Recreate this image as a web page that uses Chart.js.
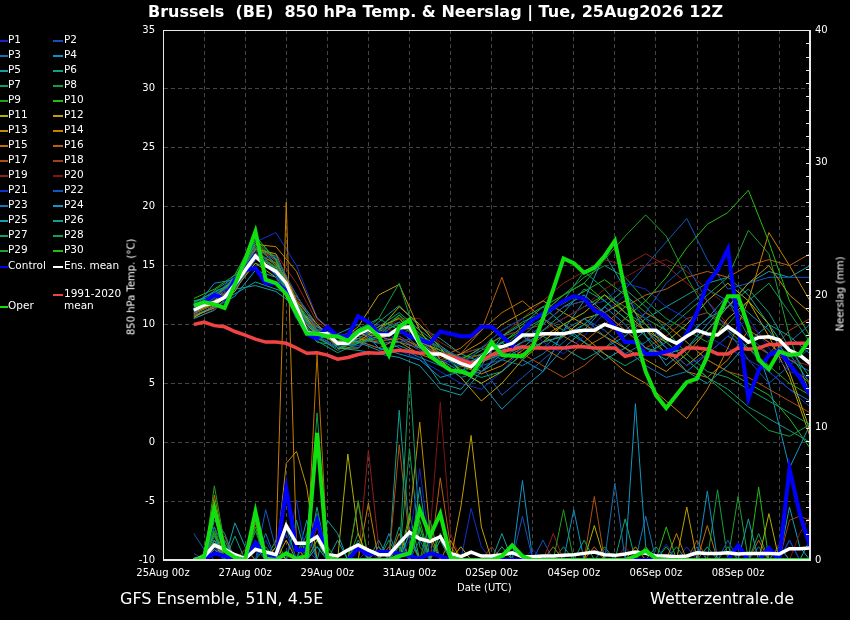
<!DOCTYPE html>
<html>
<head>
<meta charset="utf-8">
<title>Brussels 850 hPa Temp. & Neerslag</title>
<script src="https://cdn.jsdelivr.net/npm/chart.js@4.4.1/dist/chart.umd.min.js"></script>
<style>
  body { margin: 0; background: #000; }
  #wrap { position: relative; width: 850px; height: 620px; background: #000; overflow: hidden;
          font-family: "DejaVu Sans", sans-serif; color: #fff; }
  #c { position: absolute; left: 0; top: 0; }
  .txt { position: absolute; white-space: pre; }
  .rot { position: absolute; white-space: nowrap; transform: translate(-50%, -50%) rotate(-90deg); font-size: 10px; }
  .lg { position: absolute; font-size: 10.5px; line-height: 12px; white-space: pre; }
  .mk { position: absolute; height: 2px; }
</style>
</head>
<body>
<div id="wrap">
  <canvas id="c" width="850" height="620"></canvas>
  <div class="txt" style="left:148px;top:2px;font-weight:bold;font-size:16px;">Brussels  (BE)  850 hPa Temp. &amp; Neerslag | Tue, 25Aug2026 12Z</div>
  <div class="rot" style="left:131px;top:287px;">850 hPa Temp. (°C)</div>
  <div class="rot" style="left:840px;top:294px;">Neerslag (mm)</div>
  <div class="txt" style="left:457px;top:582px;font-size:10px;">Date (UTC)</div>
  <div class="txt" style="left:120px;top:589px;font-size:16px;">GFS Ensemble, 51N, 4.5E</div>
  <div class="txt" style="left:650px;top:589px;font-size:16px;">Wetterzentrale.de</div>
  <div id="legend"></div>
</div>
<script>
// time axis: days after 25Aug 00z
const dayTickLabels = ["25Aug 00z", "27Aug 00z", "29Aug 00z", "31Aug 00z", "02Sep 00z", "04Sep 00z", "06Sep 00z", "08Sep 00z"];
const mainStart = 0.75, mainStep = 0.25;     // 6-hourly, first step 25Aug 18z
const memberStart = 0.75, memberStep = 0.5;  // members temperature every 12h

// thick lines, 6-hourly
const operTemp = [11.6,11.9,11.7,11.4,13.4,15.5,17.9,13.8,13.5,12.6, 10.9,9.2,9.2,9.0,9.0,8.6,9.4,9.8,9.0,7.4, 9.8,10.4,8.4,7.3,6.7,6.1,6.0,5.7,7.0,8.5, 7.4,7.35,7.3,8.1,10.5,13.0,15.6,15.2,14.4,14.8, 15.8,17.1,12.8,9.0,6.0,4.0,2.9,4.0,5.1,5.4, 7.3,10.5,12.4,12.4,9.8,7.0,6.2,7.7,7.4,7.5, 8.8];
const controlTemp = [11.5,11.9,12.5,12.2,13.8,14.6,14.8,13.5,13.5,12.9, 10.9,9.2,8.8,9.8,9.0,9.0,10.7,10.2,9.2,9.2, 9.5,9.0,8.7,8.4,9.4,9.2,9.0,9.0,9.8,9.8, 9.0,8.2,9.5,10.4,10.9,11.4,12.0,12.4,12.2,11.2, 10.8,9.8,8.5,8.5,7.5,7.5,7.7,8.0,9.2,11.0, 13.5,14.6,16.4,10.1,3.7,6.1,7.4,7.8,6.6,5.5, 4.0];
const meanTemp = [11.2,11.65,11.85,12.3,13.4,14.6,15.8,15.0,14.5,13.5, 11.5,9.3,9.2,9.2,8.4,8.4,9.2,9.6,9.1,9.1, 9.7,9.8,8.3,7.5,7.5,7.1,6.7,6.4,7.2,8.0, 8.1,8.4,9.1,9.1,9.2,9.2,9.2,9.4,9.5,9.5, 10.0,9.7,9.4,9.4,9.5,9.5,8.8,8.4,9.0,9.5, 9.2,9.1,9.8,9.2,8.5,8.9,8.95,8.7,7.8,7.4, 6.7];
const climTemp = [10.0,10.2,9.9,9.8,9.4,9.1,8.75,8.5,8.5,8.4, 8.0,7.55,7.6,7.4,7.05,7.2,7.45,7.6,7.55,7.7, 7.8,7.7,7.55,7.6,7.5,7.3,7.0,6.7,6.9,7.4, 7.7,7.9,8.1,8.0,8.0,8.0,8.0,8.1,8.1,8.0, 8.0,8.0,7.3,7.5,7.5,7.6,7.5,7.3,8.0,8.0, 7.9,7.5,7.5,8.0,7.9,8.0,8.3,8.3,8.4,8.4, 8.4];
const operRain = [0,0.2,3.9,0.7,0.2,0,3.65,0.1,0,0.5, 0.1,0.3,9.6,0.2,0,0,0,0,0,0, 0.3,0.5,3.8,1.8,3.5,0.2,0,0,0,0, 0.3,1.1,0.3,0,0,0,0,0,0,0, 0,0,0,0.3,0.7,0.1,0,0,0,0, 0,0,0,0,0,0,0,0,0,0, 0];
const controlRain = [0,0.1,0.5,0.3,0,0,1.3,0.4,0.1,5.4, 0.75,0.75,3.0,0.1,0,0,0.9,0.4,0.6,0.6, 0.5,0.3,0.1,0.5,0.3,0,0,0,0,0, 0,0,0,0,0,0,0,0,0,0, 0,0,0,0,0,0,0,0,0,0, 0,0,0,1.1,0,0,0.9,0,6.9,3.5, 1.0];
const meanRain = [0,0.25,1.13,0.8,0.4,0.1,0.8,0.6,0.4,2.6, 1.26,1.26,1.76,0.4,0.3,0.75,1.13,0.75,0.4,0.4, 1.26,2.1,1.6,1.4,1.76,0.5,0.25,0.6,0.3,0.3, 0.4,0.55,0.25,0.25,0.3,0.3,0.35,0.4,0.5,0.6, 0.4,0.35,0.45,0.6,0.5,0.3,0.3,0.25,0.3,0.55, 0.5,0.5,0.55,0.45,0.5,0.5,0.5,0.45,0.85,0.85, 0.9];

// members temperature, 12-hourly
const t01 = [11.0,12.2,13.6,16.2,14.0,10.8,9.0,8.0,9.5,8.6, 9.0,7.8,7.0,6.5,8.0,9.5,10.5,8.5,7.5,9.0, 11.0,12.5,10.5,8.0,6.5,7.5,9.0,10.5,8.0,6.0, 5.5];
const t02 = [11.5,12.6,13.0,15.5,15.8,12.5,9.6,8.8,9.0,10.0, 8.5,9.0,8.0,7.2,6.5,7.0,8.5,10.0,11.5,12.0, 10.5,9.0,11.0,13.5,15.0,12.0,9.5,7.0,5.0,6.5, 8.0];
const t03 = [10.8,11.5,13.2,16.5,14.5,11.0,9.4,8.5,8.0,9.5, 10.2,8.8,6.8,5.5,6.0,7.8,9.0,8.0,9.5,10.5, 9.0,7.5,8.5,10.0,11.5,13.0,12.0,9.0,7.5,8.5, 10.0];
const t04 = [11.3,13.5,13.8,16.0,14.2,10.5,8.8,9.2,10.0,8.0, 7.5,7.0,5.5,6.0,7.5,8.5,7.0,6.0,8.0,9.5, 11.5,10.0,8.0,7.0,9.0,10.5,12.5,11.0,9.5,7.0, 6.0];
const t05 = [10.5,11.2,13.0,13.3,12.8,11.5,9.8,9.0,8.5,7.8, 8.2,7.5,5.0,4.5,6.5,9.0,10.0,11.5,10.0,8.5, 7.0,8.0,9.5,8.0,6.0,5.0,6.5,8.5,10.0,9.0, 7.5];
const t06 = [11.8,12.8,13.5,17.0,15.5,11.8,9.0,7.8,8.8,9.8, 11.0,9.5,8.2,7.0,6.0,7.0,8.0,9.5,11.0,13.0, 12.0,10.5,9.0,7.5,8.0,9.5,11.5,13.0,11.0,8.0, 5.5];
const t07 = [12.0,12.4,14.0,16.8,15.0,10.5,8.5,8.2,9.6,10.5, 9.5,8.0,7.5,6.2,5.5,6.0,7.5,8.5,9.0,10.0, 11.5,13.0,11.5,9.5,7.5,6.0,5.5,4.5,3.5,2.5, 1.5];
const t08 = [11.0,12.0,13.2,15.8,14.8,11.2,9.5,8.6,9.0,10.5, 13.5,8.0,6.5,5.8,7.0,8.0,9.0,10.5,12.0,14.5, 13.0,11.0,10.0,8.5,7.0,5.5,4.0,2.5,1.0,0.5, 1.5];
const t09 = [11.6,12.5,13.6,16.5,14.6,10.8,8.8,8.0,8.5,8.8, 9.8,9.0,7.8,6.8,7.8,9.0,10.2,11.0,12.5,13.5, 15.5,17.5,19.3,17.5,14.0,11.0,9.5,8.0,6.5,5.0, 4.0];
const t10 = [12.2,13.0,14.2,17.5,15.5,11.5,9.2,8.8,8.5,9.0, 10.8,9.2,8.0,7.0,8.0,9.5,10.5,11.5,12.5,13.5, 12.0,10.5,12.0,14.0,16.5,18.5,19.5,21.4,17.0,12.0, 9.0];
const t11 = [11.0,11.8,13.0,15.2,14.0,11.0,9.0,8.0,8.0,9.5, 11.5,10.0,8.0,6.0,5.0,6.0,7.5,8.5,10.0,11.0, 12.5,11.0,9.5,8.5,10.0,12.0,13.5,12.0,10.0,6.0, 1.0];
const t12 = [10.6,11.6,12.8,15.8,14.8,11.8,9.3,8.4,9.8,12.5, 13.4,9.5,7.0,5.5,3.5,5.0,7.0,8.5,9.0,10.5, 11.0,12.0,10.0,8.0,6.5,8.0,10.5,12.0,9.0,5.5, 0.5];
const t13 = [10.8,11.4,13.4,16.4,16.0,12.0,10.0,8.5,9.2,9.0, 8.5,7.5,6.8,7.5,8.5,10.0,11.0,12.0,11.0,10.0, 9.0,8.0,7.0,6.0,7.5,9.5,11.5,13.5,15.0,12.5, 11.0];
const t14 = [11.2,12.0,13.8,16.8,16.6,14.5,10.5,9.0,8.5,9.8, 10.5,8.5,7.8,6.5,5.8,6.5,7.8,9.0,10.0,9.0, 7.5,6.0,5.0,3.5,2.0,4.5,8.0,12.0,17.8,15.0, 12.0];
const t15 = [10.9,11.7,13.5,16.0,15.2,12.5,9.5,8.2,8.8,8.5, 9.0,8.0,7.2,8.0,9.5,11.0,12.0,10.5,9.0,8.0, 9.0,10.5,9.5,7.5,6.0,5.5,7.0,9.5,8.5,6.5, 5.0];
const t16 = [11.4,12.3,14.0,16.8,15.5,11.5,9.0,8.0,8.6,8.0, 8.8,7.8,7.0,7.5,9.5,14.0,9.0,8.0,7.0,8.5, 10.0,11.5,12.5,13.0,14.0,14.5,14.0,15.0,15.5,15.0, 16.0];
const t17 = [10.7,11.5,13.6,16.3,15.0,11.5,9.6,9.0,9.2,8.8, 9.4,8.6,7.5,6.8,7.5,8.2,7.5,6.5,5.5,6.5, 8.0,9.5,11.0,10.0,8.5,7.0,6.0,5.5,4.5,3.5, 2.5];
const t18 = [11.0,12.0,13.2,16.6,15.4,12.2,9.8,8.6,9.0,8.6, 8.8,8.2,7.5,7.0,8.0,9.0,9.5,10.0,11.5,12.0, 11.0,9.5,8.0,9.0,10.5,11.0,10.0,8.5,7.5,9.5, 10.5];
const t19 = [11.3,12.1,13.3,16.0,16.0,13.5,10.2,9.0,9.5,10.0, 9.2,9.8,8.5,7.5,8.0,9.0,10.5,12.0,13.5,14.5, 15.5,15.0,16.0,15.0,13.5,12.0,10.0,8.5,7.5,7.0, 6.5];
const t20 = [10.5,11.3,12.8,15.5,14.8,11.5,9.5,8.8,9.5,9.2, 10.5,10.5,8.2,6.5,6.0,7.0,8.5,9.5,10.5,11.5, 13.0,14.0,15.0,15.5,14.5,13.0,11.5,10.0,8.5,7.5, 7.0];
const t21 = [11.6,12.4,14.2,17.0,17.8,15.0,10.6,9.0,8.6,8.0, 7.8,7.0,6.0,5.0,4.5,6.0,8.0,9.5,10.5,11.5, 12.0,13.5,13.0,11.5,10.5,9.0,8.0,7.0,6.0,4.5, 3.0];
const t22 = [11.0,11.9,13.0,15.6,14.4,11.2,9.0,8.2,8.2,9.0, 9.6,8.5,7.8,7.2,6.5,4.0,5.5,7.0,8.5,10.0, 11.5,13.0,15.0,17.0,19.0,15.5,13.0,13.5,14.0,14.0, 14.0];
const t23 = [11.4,12.6,13.3,15.2,14.6,11.4,9.2,8.6,9.4,9.2, 8.0,7.2,6.5,7.5,8.0,7.0,6.5,7.5,9.0,10.5, 9.5,8.0,6.5,5.5,6.0,7.5,9.0,8.0,6.0,4.5, 3.5];
const t24 = [10.7,11.4,12.4,14.6,14.0,11.0,9.4,9.0,8.8,8.4, 8.5,8.0,7.0,6.0,5.0,2.8,4.5,6.0,9.5,12.0, 16.0,13.0,9.0,6.5,8.0,10.0,12.0,10.0,5.0,-2.2, 1.5];
const t25 = [11.2,11.8,12.6,13.6,13.0,12.4,10.0,8.0,7.8,7.5, 7.2,6.5,4.5,4.0,6.0,7.5,8.5,10.0,11.5,12.5, 11.0,9.5,8.0,7.5,9.0,10.5,11.5,13.5,14.5,14.0, 15.0];
const t26 = [11.9,12.7,13.7,16.6,15.2,11.6,9.2,8.4,9.0,10.2, 11.6,9.8,8.8,7.5,6.8,7.5,8.5,9.0,8.0,7.0, 8.0,9.0,10.5,11.5,12.5,13.5,14.0,12.5,10.0,7.5, 5.0];
const t27 = [12.0,12.3,13.0,15.8,14.4,11.0,8.6,7.6,8.4,9.0, 10.2,9.0,7.5,6.6,7.2,8.5,9.5,10.5,9.5,8.5, 7.5,6.5,7.5,8.5,7.0,5.5,4.5,3.0,2.0,1.0, 0.0];
const t28 = [11.1,12.9,14.0,16.4,15.8,12.0,9.0,8.0,8.4,9.5, 10.8,8.6,7.6,6.0,7.0,8.0,9.5,11.0,12.5,14.0, 15.0,14.0,12.0,10.5,9.5,8.5,10.0,12.0,13.5,11.0, 8.5];
const t29 = [10.6,11.6,13.1,15.9,14.9,11.9,9.6,8.2,8.6,9.6, 10.6,8.4,7.4,6.4,6.8,7.5,8.5,9.5,10.5,11.5, 12.5,11.5,10.5,9.5,11.0,12.5,14.0,18.0,16.0,9.0, 4.0];
const t30 = [11.5,12.2,13.9,17.2,15.6,11.4,8.9,8.0,9.6,9.4, 10.0,8.9,8.0,7.2,7.4,8.4,9.8,10.8,11.8,12.8, 13.8,12.5,11.0,10.0,8.5,7.0,6.0,5.0,4.0,2.0, -0.5];

// members precipitation (mm), 6-hourly
const r01 = [0,0,1,0,0,0,0,0,0,2, 0,0,0,0,0,0,0,0.8,0,0, 0,1.5,6.9,1,0,0,0,0,0,0, 0,0,0,0.8,0,0,0,0,0,0, 0,0,0,0,0,0,1.2,0,0,0, 0,0,0,0,0,0,0,0,1.5,0, 0];
const r02 = [0.5,0,0,0,0,0,1,0,0,0, 0,0.8,0,0,0,0,0,0,0,0, 1.2,0,0,0,0,0,0,0,0,0, 0,0,3.3,0,0,0,0,0,0,0, 0.8,0,0,0,0,0,0,0,0,0, 0,0,1.5,0,0,0,0,0,0,0, 0];
const r03 = [0,0,2.5,0.8,0,0,0,0,0,0, 0,2,0,0,0,0,0,0,1,0, 0,0,1.5,0,0,0,0,0,0,0, 0,0,0,0,0,0,0,0,0,0, 0,5.8,0,0,0,0,0,0,0,1, 0,0,0,0,0,0,0,0,0,0, 0];
const r04 = [0,0,0.8,0,0,0,1.5,0,0,0, 0,0,1,0,0,0,0,0,0,2, 0,0,0,0,0,0,0,0,0,0, 0,0,0,0,0,0,0,3.8,0,0, 0,0,0,0,0,0,0,0,0,0, 5.2,0,0,0,0,0,0,1,0,0, 0];
const r05 = [0,0,1.2,1.5,0,0,0,0,0,0, 0,0,0,3,2,0,0,0,0,0, 0,2,0,0,0,0,0,0,0,0, 2,0,0,0,0,0,0,0,0,0, 0,0,0,0,0,0,0,0,0,0, 0,0,0,0,3.1,0,0,0,0,0, 1.5];
const r06 = [0,0,1.5,0,1.8,0,0,0,0,0, 3,0,4,0,0,0,0,0,0,0, 2.5,0,0,0,1.5,0,0,0,0,0, 0,0,0,0,0,0,0,0,0,0, 0,0,0,0,0,1,0,0,0,0, 0,0,0,0,0,0,0,0,0,0, 0];
const r07 = [0,0,4,1,0,0,0,0,0,0, 0,0,0,0,0,0,1.5,0,0,0, 0,14.3,2,0,0,0,0,0,0,0, 0,0,0,0,0,0,0,0,1.5,0, 0,0,0,0,0,0,0,1,0,0, 0,0,0,0,0,0,0,0,0,0, 0];
const r08 = [0,0,2,0,0,0,0,1,0,0, 0,0,11.1,1,0,0,0,0,0,1.5, 0,0,0,3,0,0,0,0,0,0, 0,0,0,0,0,0,0,0,0,0, 0,0,0,0,0,0,0,0,0,0, 0,5.3,0,0,0,0,0,0,0,0, 0];
const r09 = [0,0,5.6,1.2,0,0,1,0,0,0, 0,0,0,0,0,0,4.5,0,0,0, 0,0,2.5,0,0,0,0,0,0,0, 0,0,0,0,0,0,3.8,0,0,0, 0,0,0,0,1,0,0,0,0,0, 0,0,0,0,0,0,0,0,0,0, 0];
const r10 = [0,0.5,2,0,0,0,2.5,0,0,0, 0,0,1.5,0,0,0,0,0,0,0, 0,3.5,0,0,2,0,0,0,0,0, 0,0,0,0,0,0,0,0,0,0, 0,0,0,0,0,0,2.5,0,0,0, 0,0,0,0,0,0,1,0,0,0, 0];
const r11 = [0,0,1,0,0,0,0,0,1,0, 0,0,0,0,0,8,2,0,0,0, 0,0,0,0,0,0,1,0,0,0, 0,0,0,0,0,0,0,0,0,2.6, 0,0,0,0,0,0,0,0,0,0, 0,0,0,0,0,0,3.5,0,0,0, 0];
const r12 = [0,0,0.8,0,0,0,0,0,0,1.5, 0,0,0,0,0,0,0,0,1,0, 0,0,0,0,0,0,4,9.4,2.5,0, 0,0,0,0,0,0,0,0,0,0, 0,0,0,0,0,0,0,0,4,0, 0,0,0,1,0,0,0,0,0,0, 0];
const r13 = [0,0,3.5,0,0,0,0,0,0,7.3, 8.2,5.5,0,0,0,0,0,0,0,0, 0,3,10.4,2,0,0,0,0,0,0, 0,0,0,0,0,0,0,0,0,0, 0,0,0,1,0,0,0,0,0,0, 0,0,0,0,0,0,0,0,0,0, 0];
const r14 = [0,0,1.2,0,0,0,0,0,1,27, 1,0,0,0,0,0,0,4.3,0,0, 0,0,0,0,0,1.5,0,0,0,0, 0,0,0,0,0,0,0,0,0,0, 0,0,0,0,0,0,0,2,0,0, 0,0,0,0,0,0,0,0,0,0, 0];
const r15 = [0,0,4.9,1,0,0,0,0,0,0, 0,0,15.5,0.5,0,0,0,0,0,0, 2,0,0,0,0,0,0,0,0,0, 0,0,0,0,0,1,0,0,0,0, 0,0,0,0,0,0,0,0,0,0, 2.6,0,0,0,0,0,0,0,0,0, 0];
const r16 = [0,0,1.5,0,0,0,2.8,0,0,0, 0,0,0,0,0,0,4.3,0,0,0, 0,0,0,0,6.2,1,0,0,0,0, 0,0,0,0,0,0,0,0,0,1, 0,0,0,0,0,0,0,0,0,0, 0,0,0,0,0,1.5,0,0,0,0, 0];
const r17 = [0,0,2,0,0,0.8,0,0,0,0, 0,0,0,0,0,0,0,0,0,0, 8.7,1.5,0,0,0,0,0,0,0,0, 0,0,0,0,0,0,0,0,0,4.8, 0,0,0,0,0,0,0,0,0,1.5, 0,0,0,0,0,0,0,0,0,0, 0];
const r18 = [0,0,1,1.8,0,0,0,0,0,0, 0,0,1.5,0,0,0,0,0,0,1, 0,0,0,0,0,0,0,0,0,1, 0,0,0,0,0,0,0,0,0,0, 0,0,0,0,0,0,0,0,0,0, 0,0,0,0,0,0,0,0,3,3.3, 3];
const r19 = [0,0,1.5,0,0,0,0,0,0,0, 0,0,2.5,0,0,0,0,8.3,1,0, 0,0,0,0,1.5,0,0,0,0,0, 0,0,0,0,0,2,0,0,0,0, 0,0,0,0,0,0,0,0,0,0, 0,0,0,0,0,0,0,1.2,0,0, 0];
const r20 = [0,0,0.8,0,0,0,0,0,0,0, 1,0,0,0,0,0,0,0,0,0, 0,0,0,2,11.9,2,0,0,0,0, 0,0,0,0,0,0,0,0,0,0, 0,0,1,0,0,0,0,0,0,0, 0,0,0,0,0,0,0,0,0,2, 3.3];
const r21 = [0,0,1,0,0,0,0,1.5,0,0, 4.5,0,0,0,0,0,1,0,0,0, 0,0,0,0,0,0,0,3.9,1,0, 0,0,0,0,0,0,0,0,0,0, 0,0,0,0,0,0,0,0,1,0, 0,0,0,0,0,0,0,0,0,0, 0];
const r22 = [2,0.8,0,0,0,0,0,3.8,0.8,0, 0,0,0,0,0,0,0,0,0,0, 1.5,0,0,0,0,0,0,0,0,0, 0,0,0,0,1.5,0,0,0,0,0, 0,0,0,0,0,0,0,0,0,0, 0,0,0,1,0,0,0,0,0,0, 0];
const r23 = [0,0,1.5,0,0,0,0,2,0,0, 0,0,0,0,0,0,0,0,0,1, 0,0,0,0,2,0,0,0,0,0, 0,0,0,0,0,0,0,0,0,0, 0,0,0,0,3.3,0,0,0,0,0, 0,0,0,0,0,1,0,0,0,0, 0];
const r24 = [0,0,1,0,0,0,0,0,0,0, 0,3,0,0,0,0,0,0,0,0, 0,2,0,0,0,0,0,0,0,0, 0,0,6,0,0,0,0,0,0,0, 0,0,0,11.8,1,0,0,0,0,0, 0,0,0,0,0,0,0,0,1.5,0, 0];
const r25 = [0,0,1.5,0,2.8,1,0,0,0,0, 0,0,0,0,0,0,0,0,0,0, 0,0,5.5,0,0,0,0,0,0,0, 0,1,0,0,0,0,0,0,0,0, 0,0,0,0,0,0,0,0,0,0, 0,0,0,0,0,0,0,0,4,1, 0];
const r26 = [0,0,3,2,0,0,0,0,0,0, 0,0,0,0,1.5,0,0,0,0,0, 11.3,2,0,0,0,0,0,0,0,0, 1,0,0,0,0,0,0,0,0,0, 0,0,0,0,0,0,0,0,0,0, 1,0,0,0,0,0,0,0,0,0, 0];
const r27 = [0,0,1.8,0,0,0,0,0,0,2.5, 0,0,0,0,0,0,0,0,1.5,0, 0,0,2.5,0,0,0,0,0,0,0, 0,0,0,0,0,0,0,0,0,0, 0,0,3.1,0,0,0,0,0,0,0, 0,0,1,0,0,0,0,0,0,0, 0];
const r28 = [0,0,1.5,0,0,0,2.2,0,0,0, 0,0,3.5,0,0,0,0,0,0,0, 0,8.4,1,0,0,0,0,0,0,0, 0,0,0,0,0,0,1,0,0,0, 0,0,0,0,0,0,0,0,0,0, 0,0,0,0,0,2,0,0,0,0, 0];
const r29 = [0,0,2.5,0,0,0,3,0,0,0, 0,0,0,0,0,0,2,0,0,0, 0,0,0,1.5,0,0,0,0,0,0, 0,0,0,0,0,0,0,0,0,0, 1,0,0,0,0,0,0,0,0,0, 0,0,0,4.8,0,0,0,0,0,0, 0];
const r30 = [0,0,2.2,0,0,0,0,0,1.5,0, 0,0,1,0,0,0,0,0,0,0, 1,0,3,0,0,0,0,0,0,0, 0,0,0,0,0,0,0,0,0,0, 0,0,0,0,0,0,1,0,0,0, 0,0,0,0,0,5.5,0,0,0,0, 0];

const memberTemps = [t01,t02,t03,t04,t05,t06,t07,t08,t09,t10,t11,t12,t13,t14,t15,t16,t17,t18,t19,t20,t21,t22,t23,t24,t25,t26,t27,t28,t29,t30];
const memberRains = [r01,r02,r03,r04,r05,r06,r07,r08,r09,r10,r11,r12,r13,r14,r15,r16,r17,r18,r19,r20,r21,r22,r23,r24,r25,r26,r27,r28,r29,r30];
const memberColors = ["#1424c8","#1450b8","#1870b0","#1090c0","#10a0a4","#10a084","#10a064","#10a044","#20a020","#24bc10",
                      "#b0b000","#c0a000","#c09000","#c88000","#c07000","#b86010","#b05010","#a04020","#902020","#801414",
                      "#1030d0","#1058c0","#1478b8","#1494c0","#10a0b0","#10a090","#10a070","#10a050","#20a030","#24b818"];

function toPoints(values, start, step) {
  return values.map((v, i) => ({ x: start + i * step, y: v }));
}

const datasets = [];
datasets.push({ label: "Oper", data: toPoints(operTemp, mainStart, mainStep), borderColor: "#10e010", borderWidth: 4, order: 0 });
datasets.push({ label: "Oper rain", data: toPoints(operRain, mainStart, mainStep), yAxisID: "y2", borderColor: "#10e010", borderWidth: 4, order: 0 });
datasets.push({ label: "Ens. mean", data: toPoints(meanTemp, mainStart, mainStep), borderColor: "#ffffff", borderWidth: 3.5, order: 1 });
datasets.push({ label: "Ens. mean rain", data: toPoints(meanRain, mainStart, mainStep), yAxisID: "y2", borderColor: "#ffffff", borderWidth: 3.5, order: 1 });
datasets.push({ label: "Control", data: toPoints(controlTemp, mainStart, mainStep), borderColor: "#0000ff", borderWidth: 4, order: 2 });
datasets.push({ label: "Control rain", data: toPoints(controlRain, mainStart, mainStep), yAxisID: "y2", borderColor: "#0000ff", borderWidth: 4, order: 2 });
datasets.push({ label: "1991-2020 mean", data: toPoints(climTemp, mainStart, mainStep), borderColor: "#f04444", borderWidth: 3.5, order: 3 });
memberTemps.forEach((vals, i) => {
  datasets.push({ label: "P" + (i + 1), data: toPoints(vals, memberStart, memberStep), borderColor: memberColors[i], borderWidth: 1, order: 10 });
  datasets.push({ label: "P" + (i + 1) + " rain", data: toPoints(memberRains[i], mainStart, mainStep), yAxisID: "y2", borderColor: memberColors[i], borderWidth: 1, order: 10 });
});

// white frame round the plot and small mm ticks on the right axis
const framePlugin = {
  id: "frame",
  afterDatasetsDraw(chart) {
    const { ctx, chartArea: a } = chart;
    const y2 = chart.scales.y2;
    ctx.save();
    ctx.strokeStyle = "#e8e8e8";
    ctx.lineWidth = 1;
    ctx.strokeRect(a.left + 0.5, a.top + 0.5, a.right - a.left - 1, a.bottom - a.top - 1);
    for (let v = 0; v <= 40; v++) {
      const y = Math.round(y2.getPixelForValue(v)) + 0.5;
      ctx.beginPath();
      ctx.moveTo(a.right - 4, y);
      ctx.lineTo(a.right, y);
      ctx.stroke();
    }
    ctx.restore();
  }
};

const tickFont = { family: "DejaVu Sans", size: 10 };
const gridStyle = { color: "#454545", lineWidth: 1, drawTicks: false };

new Chart(document.getElementById("c"), {
  type: "line",
  data: { datasets: datasets },
  options: {
    responsive: false,
    animation: false,
    events: [],
    layout: { padding: { top: 30, left: 0, right: 0, bottom: 0 } },
    elements: { point: { radius: 0 }, line: { tension: 0, fill: false } },
    plugins: { legend: { display: false }, tooltip: { enabled: false } },
    scales: {
      x: {
        type: "linear", min: 0, max: 15.75,
        afterFit: s => { s.height = 60; },
        afterBuildTicks: s => { s.ticks = Array.from({ length: 16 }, (_, d) => ({ value: d })); },
        ticks: {
          color: "#ffffff", font: tickFont, padding: 7, maxRotation: 0, autoSkip: false,
          callback: v => (v % 2 === 0 ? dayTickLabels[v / 2] : "")
        },
        grid: gridStyle,
        border: { display: true, color: "#e8e8e8", dash: [4, 3] }
      },
      y: {
        position: "left", min: -10, max: 35,
        afterFit: s => { s.width = 163; },
        ticks: { stepSize: 5, color: "#ffffff", font: tickFont, padding: 8 },
        grid: gridStyle,
        border: { display: true, color: "#e8e8e8", dash: [4, 3] }
      },
      y2: {
        position: "right", min: 0, max: 40,
        afterFit: s => { s.width = 40; },
        ticks: { stepSize: 10, color: "#ffffff", font: tickFont, padding: 5 },
        grid: { drawOnChartArea: false, drawTicks: false },
        border: { display: true, color: "#e8e8e8" }
      }
    }
  },
  plugins: [framePlugin]
});

// legend on the left
const legend = document.getElementById("legend");
function addLegendItem(text, color, col, yCenter) {
  const mk = document.createElement("div");
  mk.className = "mk";
  mk.style.background = color;
  mk.style.left = (col === 0 ? 0 : 53) + "px";
  mk.style.width = (col === 0 ? 8 : 10) + "px";
  mk.style.top = (yCenter + 1) + "px";
  legend.appendChild(mk);
  const lb = document.createElement("div");
  lb.className = "lg";
  lb.textContent = text;
  lb.style.left = (col === 0 ? 8 : 64) + "px";
  lb.style.top = (yCenter - 6) + "px";
  legend.appendChild(lb);
}
memberColors.forEach((c, i) => addLegendItem("P" + (i + 1), c, i % 2, 39 + Math.floor(i / 2) * 15));
addLegendItem("Control", "#0000ff", 0, 265);
addLegendItem("Ens. mean", "#ffffff", 1, 265);
addLegendItem("1991-2020\nmean", "#f04444", 1, 293);
addLegendItem("Oper", "#10e010", 0, 305);
</script>
</body>
</html>
